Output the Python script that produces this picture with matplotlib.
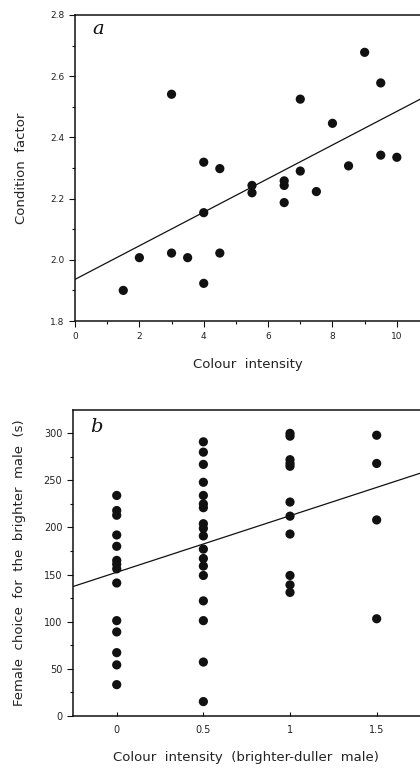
import numpy as np
import matplotlib
matplotlib.use("Agg")
import matplotlib.pyplot as plt
from matplotlib.ticker import MultipleLocator

# Panel a: colour intensity vs condition factor
colour_a = [1.5, 2, 3, 3, 3.5, 4, 4, 4, 4.5, 4.5, 5.5, 5.5, 6.5, 6.5, 6.5,
            7, 7, 7.5, 8, 8.5, 9, 9.5, 9.5, 10]
condition_a = [1.90, 2.007, 2.541, 2.022, 2.007, 2.319, 2.154, 1.923, 2.298, 2.022,
               2.243, 2.219, 2.258, 2.243, 2.187, 2.525, 2.290, 2.223, 2.446, 2.307,
               2.678, 2.578, 2.342, 2.335]
fit_a = (1.936, 0.0549)  # intercept, slope

# Panel b: colour difference vs female choice (s)
diff_b = [0] * 14 + [0.5] * 18 + [1] * 11 + [1.5] * 4
choice_b = [234, 218, 213, 192, 180, 165, 161, 156, 141, 101, 89, 67, 54, 33,
            291, 280, 267, 248, 234, 225, 221, 204, 199, 191, 177, 167, 159, 149,
            122, 101, 57, 15,
            300, 297, 272, 268, 265, 227, 212, 193, 149, 139, 131,
            298, 268, 208, 103]
fit_b = (152.4, 60.1)

fig = plt.figure(figsize=(4.2, 7.7), dpi=100)
fig.patch.set_facecolor("white")

label_font = dict(family="DejaVu Sans", fontsize=9.5, color="#222222")
letter_font = dict(family="DejaVu Serif", style="italic", fontsize=14, color="#111111")


def style_axes(ax, tick_size):
    ax.spines["right"].set_visible(False)
    for s in ["left", "bottom", "top"]:
        ax.spines[s].set_linewidth(1.1)
        ax.spines[s].set_color("#111111")
    ax.tick_params(which="both", direction="out", color="#111111", width=0.8,
                   labelsize=tick_size, labelcolor="#222222", top=False, right=False)
    ax.tick_params(which="major", length=4)
    ax.tick_params(which="minor", length=2.5)


# ---- panel a ----
ax1 = fig.add_axes([75 / 420, 1 - 321 / 770, 345 / 420, 306 / 770])
ax1.scatter(colour_a, condition_a, s=44, color="#111111", edgecolors="none", zorder=3)
xa = np.array([0, 10.72])
ax1.plot(xa, fit_a[0] + fit_a[1] * xa, color="#111111", lw=0.9, zorder=2)
ax1.set_xlim(0, 10.72)
ax1.set_ylim(1.8, 2.8)
ax1.xaxis.set_major_locator(MultipleLocator(2))
ax1.xaxis.set_minor_locator(MultipleLocator(1))
ax1.yaxis.set_major_locator(MultipleLocator(0.2))
ax1.yaxis.set_minor_locator(MultipleLocator(0.1))
ax1.yaxis.set_major_formatter(lambda v, p: f"{v:.1f}")
style_axes(ax1, 6.5)
ax1.tick_params(axis="x", pad=4)
ax1.set_xlabel("Colour  intensity", labelpad=12, **label_font)
ax1.set_ylabel("Condition  factor", labelpad=16, **label_font)
ax1.text(0.05, 0.985, "a", transform=ax1.transAxes, va="top", ha="left", **letter_font)

# ---- panel b ----
ax2 = fig.add_axes([72.7 / 420, 1 - 715.7 / 770, 347.3 / 420, 305.7 / 770])
ax2.scatter(diff_b, choice_b, s=44, color="#111111", edgecolors="none", zorder=3)
xb = np.array([-0.254, 1.75])
ax2.plot(xb, fit_b[0] + fit_b[1] * xb, color="#111111", lw=0.9, zorder=2)
ax2.set_xlim(-0.254, 1.75)
ax2.set_ylim(0, 324.8)
ax2.set_xticks([0, 0.5, 1, 1.5])
ax2.set_xticklabels(["0", "0.5", "1", "1.5"])
ax2.yaxis.set_major_locator(MultipleLocator(50))
ax2.yaxis.set_minor_locator(MultipleLocator(25))
style_axes(ax2, 7)
ax2.tick_params(axis="x", direction="in", length=3, pad=7)
ax2.set_xlabel("Colour  intensity  (brighter-duller  male)", labelpad=11, **label_font)
ax2.set_ylabel("Female  choice  for  the  brighter  male  (s)", labelpad=13, **label_font)
ax2.text(0.05, 0.975, "b", transform=ax2.transAxes, va="top", ha="left", **letter_font)

plt.savefig("out.png", dpi=100)
